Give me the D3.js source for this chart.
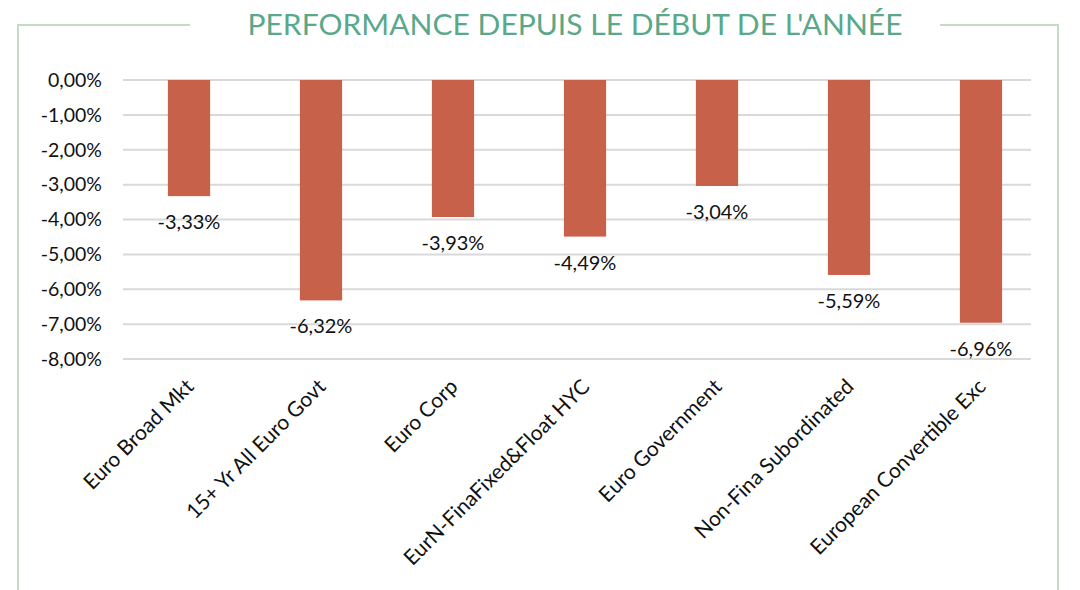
<!DOCTYPE html>
<html>
<head>
<meta charset="utf-8">
<script src="https://cdn.jsdelivr.net/npm/d3@7/dist/d3.min.js"></script>
<style>
  html, body { margin: 0; padding: 0; background: #fff; }
  svg { display: block; font-family: Lato, "Open Sans", sans-serif; }
</style>
</head>
<body>
<svg id="chart" width="1080" height="590"></svg>
<script>
// Year-to-date performance by index (%)
const categories = [
  "Euro Broad Mkt",
  "15+ Yr All Euro Govt",
  "Euro Corp",
  "EurN-FinaFixed&Float HYC",
  "Euro Government",
  "Non-Fina Subordinated",
  "European Convertible Exc"
];
const performance = [-3.33, -6.32, -3.93, -4.49, -3.04, -5.59, -6.96];
const yTicks = [0, -1, -2, -3, -4, -5, -6, -7, -8];
const title = "PERFORMANCE DEPUIS LE DÉBUT DE L'ANNÉE";

const svg = d3.select("#chart");
const W = 1080, H = 590;
const plot = { left: 123, right: 1031, top: 80, bottom: 359 };

const fmt = v => d3.format(".2f")(v).replace(".", ",").replace("−", "-") + "%";

// frame around the chart, broken by the title
const frameColor = "#c3dcc3";
const frame = svg.append("g").attr("fill", "none").attr("stroke", frameColor).attr("stroke-width", 2);
frame.append("path").attr("d", `M190,25 H18 V${H}`);
frame.append("path").attr("d", `M940,25 H1058 V${H}`);

svg.append("text")
  .attr("x", 575).attr("y", 35)
  .attr("text-anchor", "middle")
  .attr("fill", "#5aa88a")
  .attr("font-size", 29)
  .attr("textLength", 655)
  .attr("lengthAdjust", "spacingAndGlyphs")
  .text(title);

const x = d3.scaleBand()
  .domain(categories)
  .range([plot.left, plot.left + 924])
  .paddingInner(0.68)
  .paddingOuter(0.34);

const y = d3.scaleLinear()
  .domain([-8, 0])
  .range([plot.bottom, plot.top]);

// horizontal gridlines
svg.append("g")
  .selectAll("line")
  .data(yTicks)
  .join("line")
  .attr("x1", plot.left).attr("x2", plot.right)
  .attr("y1", d => y(d)).attr("y2", d => y(d))
  .attr("stroke", "#d9d9d9").attr("stroke-width", 2);

// y axis labels
const yAxis = d3.axisLeft(y).tickValues(yTicks).tickFormat(fmt).tickSize(0).tickPadding(0);
const ya = svg.append("g").attr("transform", `translate(102,0)`).call(yAxis);
ya.select(".domain").remove();
ya.selectAll("text")
  .attr("font-family", "Lato, sans-serif")
  .attr("font-size", 19.5)
  .attr("fill", "#111");

// bars
svg.append("g")
  .selectAll("rect")
  .data(performance)
  .join("rect")
  .attr("x", (d, i) => x(categories[i]))
  .attr("width", x.bandwidth())
  .attr("y", y(0))
  .attr("height", d => y(d) - y(0))
  .attr("fill", "#c8614a");

// value labels below each bar
svg.append("g")
  .selectAll("text")
  .data(performance)
  .join("text")
  .attr("x", (d, i) => x(categories[i]) + x.bandwidth() / 2)
  .attr("y", d => y(d) + 33)
  .attr("text-anchor", "middle")
  .attr("font-size", 20)
  .attr("fill", "#111")
  .text(fmt);

// rotated category labels
const xAxis = d3.axisBottom(x).tickSize(0).tickPadding(0);
const xa = svg.append("g").attr("transform", `translate(0,${y(-8)})`).call(xAxis);
xa.select(".domain").remove();
xa.selectAll("text")
  .attr("font-family", "Lato, sans-serif")
  .attr("font-size", 21)
  .attr("fill", "#111")
  .attr("text-anchor", "end")
  .attr("dy", 0)
  .attr("transform", "translate(6,29) rotate(-45)");
</script>
</body>
</html>
